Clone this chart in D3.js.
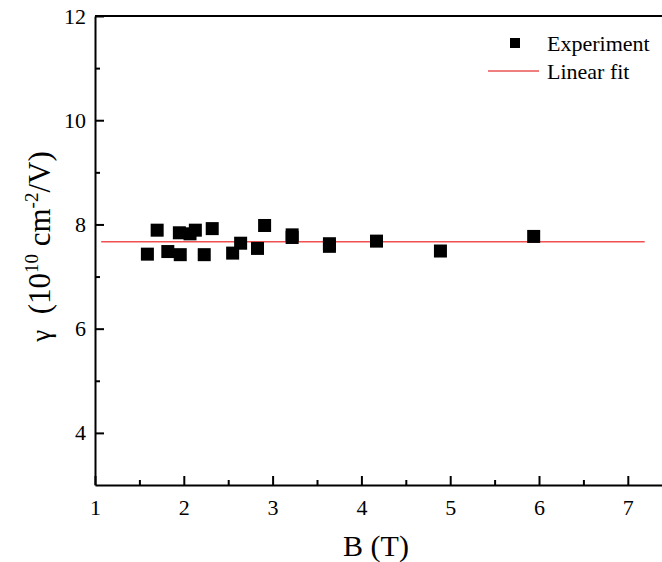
<!DOCTYPE html>
<html>
<head>
<meta charset="utf-8">
<script src="https://cdn.jsdelivr.net/npm/d3@7"></script>
<style>
  body { margin: 0; background: #fff; }
  svg text { font-family: "Liberation Serif", "Times New Roman", serif; fill: #000; }
</style>
</head>
<body>
<div id="chart"></div>
<script>
// Measured points (B in tesla, gamma in 1e10 cm^-2/V)
const bField = [1.59, 1.70, 1.82, 1.95, 1.96, 2.07, 2.13, 2.23, 2.32, 2.55, 2.64, 2.83, 2.91, 3.22, 3.22, 3.64, 3.64, 4.17, 4.89, 5.94];
const gamma  = [7.43, 7.89, 7.48, 7.84, 7.42, 7.82, 7.89, 7.42, 7.92, 7.45, 7.64, 7.54, 7.98, 7.80, 7.75, 7.63, 7.58, 7.68, 7.49, 7.77];

// Linear fit (flat)
const fitB = [1.07, 7.19];
const fitGamma = [7.67, 7.67];

const xTicks = [1, 2, 3, 4, 5, 6, 7];
const yTicks = [4, 6, 8, 10, 12];

const W = 662, H = 562;
const margin = { top: 16, right: 0, bottom: 77, left: 95 };

const svg = d3.select("#chart")
    .append("svg")
    .attr("width", W)
    .attr("height", H);

const x = d3.scaleLinear().domain([1, 7.385]).range([margin.left, W - margin.right]);
const y = d3.scaleLinear().domain([3, 12]).range([H - margin.bottom, margin.top]);

// x axis (ticks point inward)
const xAxis = svg.append("g")
    .attr("transform", `translate(0,${y(3)})`)
    .call(d3.axisBottom(x).tickValues(d3.range(1, 7.01, 0.5)).tickSize(-9).tickSizeOuter(0)
        .tickFormat(d => xTicks.includes(d) ? d : ""));
xAxis.selectAll(".tick line")
    .attr("y2", d => xTicks.includes(d) ? -9 : -5);
xAxis.selectAll("text").attr("y", 14);

// y axis
const yAxis = svg.append("g")
    .attr("transform", `translate(${x(1)},0)`)
    .call(d3.axisLeft(y).tickValues(d3.range(4, 12.01, 1)).tickSize(-9).tickSizeOuter(0)
        .tickFormat(d => yTicks.includes(d) ? d : ""));
yAxis.selectAll(".tick line")
    .attr("x2", d => yTicks.includes(d) ? 9 : 5);
yAxis.selectAll("text").attr("x", -9);

svg.selectAll("g").attr("font-family", "Liberation Serif, Times New Roman, serif").attr("font-size", 22);
svg.selectAll(".domain").attr("stroke", "#000").attr("stroke-width", 2);
svg.selectAll(".tick line").attr("stroke", "#000").attr("stroke-width", 2);

// top frame line
svg.append("line")
    .attr("x1", x(1)).attr("x2", W)
    .attr("y1", y(12)).attr("y2", y(12))
    .attr("stroke", "#000").attr("stroke-width", 2);

// fit line
svg.append("line")
    .attr("x1", x(fitB[0])).attr("x2", x(fitB[1]))
    .attr("y1", y(fitGamma[0])).attr("y2", y(fitGamma[1]))
    .attr("stroke", "#f05050").attr("stroke-width", 1.5);

// experiment squares
const sz = 13;
svg.selectAll(".pt")
    .data(bField.map((b, i) => ({ b, g: gamma[i] })))
    .enter().append("rect")
    .attr("class", "pt")
    .attr("x", d => x(d.b) - sz / 2)
    .attr("y", d => y(d.g) - sz / 2)
    .attr("width", sz)
    .attr("height", sz)
    .attr("fill", "#000");

// legend
svg.append("rect").attr("x", 510).attr("y", 38).attr("width", 10).attr("height", 10).attr("fill", "#000");
svg.append("text").attr("x", 547).attr("y", 51).attr("font-size", 22).text("Experiment");
svg.append("line").attr("x1", 488).attr("x2", 539).attr("y1", 71).attr("y2", 71)
    .attr("stroke", "#e00000").attr("stroke-width", 1);
svg.append("text").attr("x", 547).attr("y", 79).attr("font-size", 22).text("Linear fit");

// axis titles
svg.append("text")
    .attr("x", 376)
    .attr("y", 556)
    .attr("text-anchor", "middle")
    .attr("font-size", 30)
    .text("B (T)");

const yt = svg.append("text")
    .attr("transform", `translate(50,${(y(3) + y(12)) / 2 - 4}) rotate(-90)`)
    .attr("text-anchor", "middle")
    .attr("font-size", 31);
yt.append("tspan").attr("font-size", 27).text("γ");
yt.append("tspan").text("\u00a0\u00a0(10");
yt.append("tspan").attr("dy", -12).attr("font-size", 19).text("10");
yt.append("tspan").attr("dy", 12).text("\u00a0cm");
yt.append("tspan").attr("dy", -12).attr("font-size", 19).text("-2");
yt.append("tspan").attr("dy", 12).text("/V)");
</script>
</body>
</html>
